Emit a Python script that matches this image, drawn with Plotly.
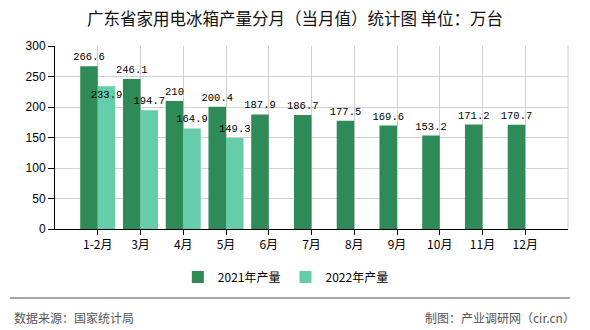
import plotly.graph_objects as go

categories = ["1-2月", "3月", "4月", "5月", "6月", "7月", "8月", "9月", "10月", "11月", "12月"]
values_2021 = [266.6, 246.1, 210, 200.4, 187.9, 186.7, 177.5, 169.6, 153.2, 171.2, 170.7]
categories_2022 = ["1-2月", "3月", "4月", "5月"]
values_2022 = [233.9, 194.7, 164.9, 149.3]
label_pos_2022 = ["inside", "outside", "outside", "outside"]
y_ticks = [0, 50, 100, 150, 200, 250, 300]

title_text = "广东省家用电冰箱产量分月（当月值）统计图 单位：万台"
source_text = "数据来源：国家统计局"
credit_text = "制图：产业调研网（cir.cn）"

CJK = "Noto Sans CJK SC"
MONO = "Liberation Mono"

def fmt(v):
    return ("%g" % v)

fig = go.Figure()
fig.add_trace(go.Bar(
    name="2021年产量", x=categories, y=values_2021,
    marker=dict(color="#2E8B57", line=dict(width=0)),
    text=[fmt(v) for v in values_2021], textposition="outside",
    textfont=dict(family=MONO, size=10.5, color="#000"),
    textangle=0, constraintext="none", cliponaxis=False,
))
fig.add_trace(go.Bar(
    name="2022年产量", x=categories_2022, y=values_2022,
    marker=dict(color="#66CDAA", line=dict(width=0)),
    text=[fmt(v) for v in values_2022], textposition=label_pos_2022,
    textfont=dict(family=MONO, size=10.5, color="#000"),
    insidetextfont=dict(family=MONO, size=10.5, color="#000"),
    outsidetextfont=dict(family=MONO, size=10.5, color="#000"),
    insidetextanchor="end",
    textangle=0, constraintext="none", cliponaxis=False,
))

fig.update_layout(
    width=590, height=330,
    margin=dict(l=55, r=22, t=46, b=101),
    paper_bgcolor="white", plot_bgcolor="white",
    barmode="group", bargap=0.18, bargroupgap=0,
    showlegend=True,
    title=dict(text=title_text, x=0.5, xref="container", xanchor="center",
               y=1 - 19 / 330, yref="container", yanchor="middle",
               font=dict(family=CJK, size=16.5, color="#111")),
    legend=dict(orientation="h", x=0.45, xanchor="center", y=-0.262, yanchor="middle",
                font=dict(family=CJK, size=12, color="#000"),
                itemclick=False, traceorder="normal"),
    font=dict(family=CJK, size=12, color="#000"),
)

fig.update_xaxes(
    type="category", categoryorder="array", categoryarray=categories,
    range=[-1, 11],
    showline=True, linecolor="#000", linewidth=1,
    showgrid=True, gridcolor="#d0d0d0", gridwidth=1,
    ticks="outside", ticklen=5, tickcolor="#000",
    tickfont=dict(family=CJK, size=12, color="#000"),
    zeroline=False,
)
fig.update_yaxes(
    range=[0, 300], tickvals=y_ticks,
    showline=True, linecolor="#000", linewidth=1,
    showgrid=True, gridcolor="#d0d0d0", gridwidth=1,
    ticks="outside", ticklen=6, tickcolor="#000",
    tickfont=dict(family="Liberation Sans", size=12, color="#000"),
    zeroline=False,
)

# right border of plotting area
fig.add_shape(type="line", xref="paper", yref="paper", x0=1, x1=1, y0=0, y1=1,
              line=dict(color="#d0d0d0", width=1))
# footer separator
fig.add_shape(type="line", xref="paper", yref="paper",
              x0=(10 - 55) / 513, x1=(570 - 55) / 513,
              y0=-(298 - 229) / 183, y1=-(298 - 229) / 183,
              line=dict(color="#888", width=1.5))
fig.add_annotation(text=source_text, xref="paper", yref="paper",
                   x=(12 - 55) / 513, xanchor="left",
                   y=-(317 - 229) / 183, yanchor="middle", showarrow=False,
                   font=dict(family=CJK, size=12, color="#555"))
fig.add_annotation(text=credit_text, xref="paper", yref="paper",
                   x=(577 - 55) / 513, xanchor="right",
                   y=-(317 - 229) / 183, yanchor="middle", showarrow=False,
                   font=dict(family=CJK, size=12, color="#555"))

fig.write_html("out.html")
